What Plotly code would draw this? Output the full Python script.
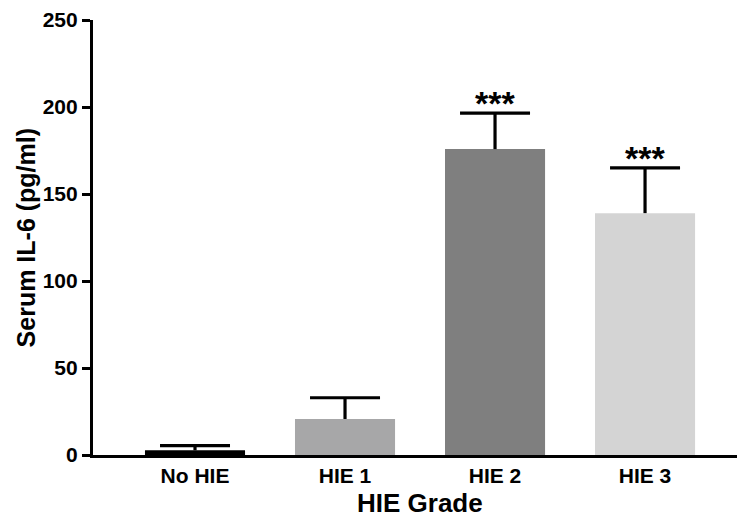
import plotly.graph_objects as go

# Serum IL-6 by HIE grade (mean with upper SEM bar)
groups = ["No HIE", "HIE 1", "HIE 2", "HIE 3"]
il6_mean = [2.7, 20.7, 175.8, 139.0]
il6_sem = [2.7, 12.2, 20.7, 26.0]
significance = ["", "", "***", "***"]
bar_colors = ["#000000", "#a7a7a8", "#7f7f7f", "#d4d4d4"]

FONT = "Liberation Sans, Arial, sans-serif"
LW = 3.2

xs = list(range(len(groups)))
tops = [m + s for m, s in zip(il6_mean, il6_sem)]

fig = go.Figure()
fig.add_trace(go.Bar(
    x=xs, y=il6_mean, width=0.667,
    marker=dict(color=bar_colors, line=dict(width=0)),
    showlegend=False, hoverinfo="skip",
))

# upper error bars: stem from the bar top plus a horizontal cap
stem_x, stem_y = [], []
for x, m, t in zip(xs, il6_mean, tops):
    stem_x += [x, x, None]
    stem_y += [m, t, None]
fig.add_trace(go.Scatter(
    x=stem_x, y=stem_y, mode="lines",
    line=dict(color="#000000", width=LW),
    showlegend=False, hoverinfo="skip", cliponaxis=False,
))
fig.add_trace(go.Scatter(
    x=xs, y=tops, mode="markers",
    marker=dict(symbol="line-ew", size=50, line=dict(color="#000000", width=LW)),
    showlegend=False, hoverinfo="skip", cliponaxis=False,
))

for x, t, lab in zip(xs, tops, significance):
    if lab:
        fig.add_annotation(x=x, y=t, text="<b>" + lab + "</b>",
                           showarrow=False, yanchor="bottom", yshift=-11,
                           font=dict(family=FONT, size=34, color="#000000"))

# axis titles
fig.add_annotation(xref="paper", yref="paper", x=-0.104, y=0.498,
                   text="<b>Serum IL-6 (pg/ml)</b>", textangle=-90,
                   showarrow=False, xanchor="center", yanchor="middle",
                   font=dict(family=FONT, size=25, color="#000000"))
fig.add_annotation(xref="paper", yref="paper", x=0.508, y=-0.11,
                   text="<b>HIE Grade</b>",
                   showarrow=False, xanchor="center", yanchor="middle",
                   font=dict(family=FONT, size=26, color="#000000"))

fig.update_layout(
    width=737, height=519,
    margin=dict(l=93, r=0, t=20, b=64),
    paper_bgcolor="white", plot_bgcolor="white",
    font=dict(family=FONT, color="#000000"),
)
fig.update_xaxes(
    range=[-0.68, 3.613],
    tickvals=xs,
    ticktext=["<b>" + g + "</b>" for g in groups],
    tickfont=dict(family=FONT, size=21),
    showline=True, linecolor="#000000", linewidth=LW,
    ticks="", showgrid=False, zeroline=False,
)
yt = [0, 50, 100, 150, 200, 250]
fig.update_yaxes(
    range=[0, 250],
    tickvals=yt,
    ticktext=["<b>%d</b>" % v for v in yt],
    tickfont=dict(family=FONT, size=21),
    showline=True, linecolor="#000000", linewidth=LW,
    ticks="outside", ticklen=8, tickwidth=LW, tickcolor="#000000",
    showgrid=False, zeroline=False,
)

fig.write_html("out.html")
